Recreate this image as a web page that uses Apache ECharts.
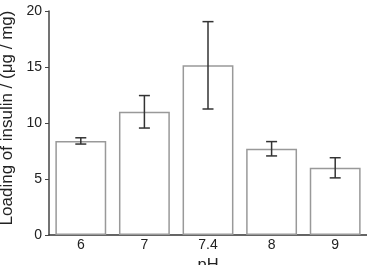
<!DOCTYPE html>
<html>
<head>
<meta charset="utf-8">
<script src="https://cdn.jsdelivr.net/npm/echarts@6/dist/echarts.min.js"></script>
<style>
  html, body { margin: 0; padding: 0; background: #fff; }
  #chart { width: 367px; height: 265px; }
</style>
</head>
<body>
<div id="chart"></div>
<script>
const categories = ['6', '7', '7.4', '8', '9']
const loading = [8.4, 11.0, 15.15, 7.7, 6.0]
const errors = [0.28, 1.45, 3.9, 0.64, 0.9]
const yTicks = [0, 5, 10, 15, 20]

const errorData = categories.map((c, i) => [i, loading[i] - errors[i], loading[i] + errors[i]])

const chart = echarts.init(document.getElementById('chart'))

chart.setOption({
  animation: false,
  textStyle: { fontFamily: 'Liberation Sans, Arial, sans-serif' },
  grid: { left: 49, right: 0, top: 11, bottom: 30, outerBoundsMode: 'none' },
  xAxis: {
    type: 'category',
    data: categories,
    name: 'pH',
    nameLocation: 'middle',
    nameGap: 16,
    nameTextStyle: { fontSize: 16.5, color: '#222' },
    axisLine: { lineStyle: { color: '#333', width: 1.5 } },
    axisTick: { show: false },
    axisLabel: { fontSize: 14, color: '#222', margin: 3 },
  },
  yAxis: {
    type: 'value',
    min: yTicks[0],
    max: yTicks[yTicks.length - 1],
    interval: 5,
    name: 'Loading of insulin / (\u03bcg / mg)',
    nameLocation: 'middle',
    nameGap: 32,
    nameTextStyle: { fontSize: 17, color: '#222', padding: [0, 0, 0, 10] },
    axisLine: { show: true, lineStyle: { color: '#444', width: 1.5 } },
    axisTick: { show: true, length: 4, lineStyle: { color: '#444' } },
    axisLabel: { fontSize: 14, color: '#222', margin: 7 },
    splitLine: { show: false },
  },
  series: [
    {
      type: 'bar',
      data: loading,
      barCategoryGap: '20%',
      itemStyle: { color: '#fff', borderColor: '#999', borderWidth: 1.5 },
    },
    {
      type: 'custom',
      data: errorData,
      renderItem(params, api) {
        const x = api.value(0)
        const lo = api.coord([x, api.value(1)])
        const hi = api.coord([x, api.value(2)])
        const half = 5.5
        const style = { stroke: '#333', lineWidth: 1.5 }
        return {
          type: 'group',
          children: [
            { type: 'line', shape: { x1: lo[0], y1: lo[1], x2: hi[0], y2: hi[1] }, style },
            { type: 'line', shape: { x1: lo[0] - half, y1: lo[1], x2: lo[0] + half, y2: lo[1] }, style },
            { type: 'line', shape: { x1: hi[0] - half, y1: hi[1], x2: hi[0] + half, y2: hi[1] }, style },
          ],
        }
      },
      z: 10,
    },
  ],
})
</script>
</body>
</html>
